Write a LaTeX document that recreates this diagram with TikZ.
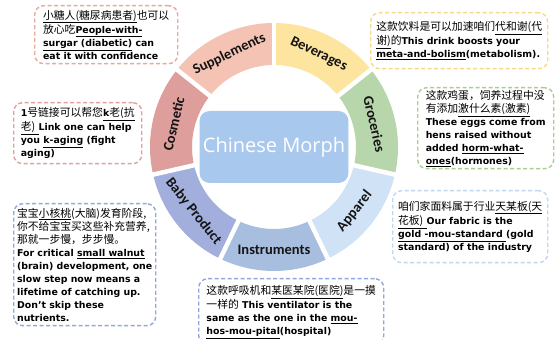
\documentclass[tikz,border=0pt]{standalone}
\usepackage{fontspec}
\setmainfont{DejaVu Sans}
\newfontfamily\zhfont{Noto Sans CJK SC}[Scale=1.15]
\newfontfamily\segfont{Carlito}
\newfontfamily\cenfont{Open Sans}
\newcommand\zh[1]{{\zhfont\mdseries #1}}
\newcommand\ulx[1]{\underline{#1}}
\definecolor{cSup}{HTML}{F4C3B3}
\definecolor{cBev}{HTML}{FDE59F}
\definecolor{cGro}{HTML}{B8D6AB}
\definecolor{cApp}{HTML}{CFE2F6}
\definecolor{cIns}{HTML}{A8BEDF}
\definecolor{cBab}{HTML}{A2AFDD}
\definecolor{cCos}{HTML}{DE9E9B}
\definecolor{cCen}{HTML}{A9C8EE}
\definecolor{bSup}{HTML}{E9A99B}
\definecolor{bBev}{HTML}{F6DA86}
\definecolor{bGro}{HTML}{A8CF8F}
\definecolor{bCos}{HTML}{E2A0A0}
\definecolor{bBab}{HTML}{93A8DA}
\definecolor{bApp}{HTML}{BFD8F0}
\definecolor{bIns}{HTML}{8EA9DB}
\definecolor{segtext}{HTML}{141414}
\tikzset{
  seglabel/.style={font=\segfont\bfseries\fontsize{14.5}{16}\selectfont, text=segtext, inner sep=0pt},
  notebox/.style={draw=#1, line width=1.4pt, dash pattern=on 4pt off 2.5pt,
    rounded corners=9pt, fill=white, anchor=north west, align=left,
    font=\bfseries\fontsize{9.4}{13}\selectfont, inner sep=0pt},
  centerbox/.style={fill=cCen, rounded corners=10pt, minimum width=138pt,
    minimum height=72pt, text=white, font=\cenfont\fontsize{20}{22}\selectfont}
}
\begin{document}
\begin{tikzpicture}[x=1pt,y=1pt]
\useasboundingbox (0,0) rectangle (555,340);
\fill[white] (0,0) rectangle (555,340);
\begin{scope}[shift={(274,193)}]
  % ring sectors (ccw start, end, colour)
  \foreach \a/\b/\c in {38.571/90/cBev, -12.857/38.571/cGro, -64.286/-12.857/cApp,
      -115.714/-64.286/cIns, -167.143/-115.714/cBab, -218.571/-167.143/cCos,
      90/141.429/cSup}{
    \fill[\c] (\a:82) -- (\a:124) arc[start angle=\a, end angle=\b, radius=124]
      -- (\b:82) arc[start angle=\b, end angle=\a, radius=82] -- cycle;
  }
  \foreach \g in {90, 38.571, -12.857, -64.286, -115.714, -167.143, 141.429}{
    \draw[white, line width=4.5pt] (\g:78) -- (\g:128);
  }
  \node[seglabel, rotate=25.71] (lSup) at (115.71:103) {Supplements};
  \node[seglabel, rotate=-25.71] (lBev) at (64.29:103) {Beverages};
  \node[seglabel, rotate=-77.14] (lGro) at (12.86:103) {Groceries};
  \node[seglabel, rotate=51.43] (lApp) at (-38.57:103) {Apparel};
  \node[seglabel] (lIns) at (-90:103) {Instruments};
  \node[seglabel, rotate=-51.43] (lBab) at (-141.43:103) {Baby Product};
  \node[seglabel, rotate=77.14] (lCos) at (167.14:103) {Cosmetic};
  \node[centerbox] (center) at (0,0) {Chinese Morph};
\end{scope}

\node[notebox=bSup, minimum width=143pt, minimum height=58pt] (nSup) at (34,335)
 {\ulx{\zh{小糖人(糖尿病患者)}}\zh{也可以}\\
  \zh{放心吃}\ulx{People-with-}\\
  \ulx{surgar (diabetic)} can\\
  eat it with confidence};

\node[notebox=bBev, minimum width=177pt, minimum height=56pt] (nBev) at (370,328)
 {\zh{这款饮料是可以加速咱们}\ulx{\zh{代和谢(代}}\\
  \ulx{\zh{谢)}}\zh{的}This drink boosts your\\
  \ulx{meta-and-bolism}(metabolism).};

\node[notebox=bGro, minimum width=136pt, minimum height=81pt] (nGro) at (417,253)
 {\zh{这款鸡蛋，饲养过程中没}\\
  \zh{有添加}\ulx{\zh{激什么素(激素)}}\\
  These eggs come from\\
  hens raised without\\
  added \ulx{horm-what-}\\
  \ulx{ones}(hormones)};

\node[notebox=bCos, minimum width=128pt, minimum height=61pt] (nCos) at (13,238)
 {1\zh{号链接可以帮您}\ulx{k\zh{老(抗}}\\
  \ulx{\zh{老)} }Link one can help\\
  you \ulx{k-aging} (fight\\
  aging)};

\node[notebox=bBab, minimum width=142pt, minimum height=122pt] (nBab) at (13,137)
 {\zh{宝宝}\ulx{\zh{小核桃}}\zh{(大脑)发育阶段,}\\
  \zh{你不给宝宝买这些补充营养,}\\
  \zh{那就一步慢，步步慢。}\\
  For critical \ulx{small walnut}\\
  (brain) development, one\\
  slow step now means a\\
  lifetime of catching up.\\
  Don't skip these\\
  nutrients.};

\node[notebox=bApp, minimum width=155pt, minimum height=72pt] (nApp) at (392,150)
 {\zh{咱们家面料属于行业}\ulx{\zh{天某板(天}}\\
  \ulx{\zh{花板)} }Our fabric is the\\
  \ulx{gold -mou-standard }(gold\\
  standard) of the industry};

\node[notebox=bIns, minimum width=185pt, minimum height=66pt] (nIns) at (198,62)
 {\zh{这款呼吸机和}\ulx{\zh{某医某院(医院)}}\zh{是一摸}\\
  \zh{一样的} This ventilator is the\\
  same as the one in the \ulx{mou-}\\
  \ulx{hos-mou-pital}(hospital)};
\end{tikzpicture}
\end{document}
